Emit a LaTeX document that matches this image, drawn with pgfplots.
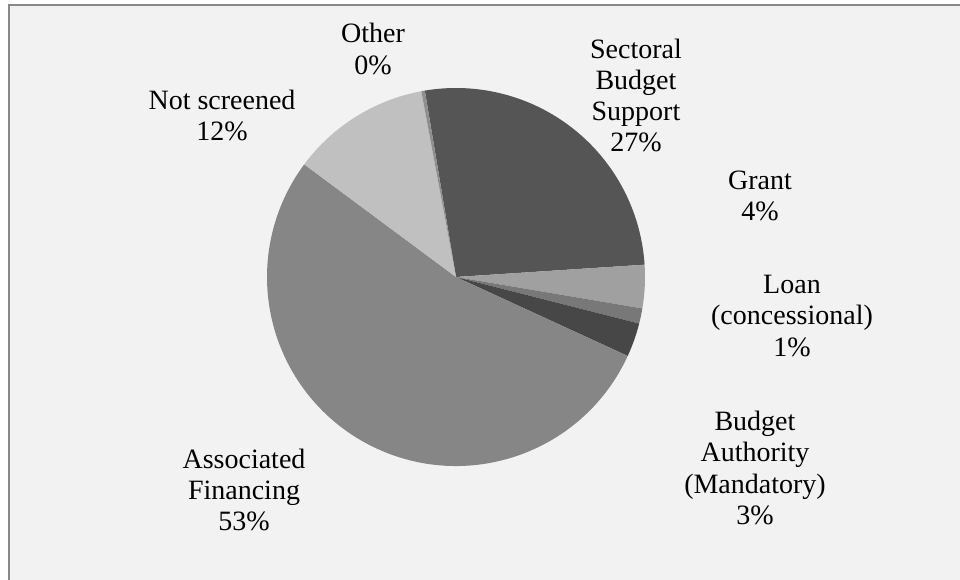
\documentclass[border=0pt]{standalone}
\usepackage{fontspec}
\setmainfont{Liberation Serif}
\usepackage{pgfplots}
\usepackage{pgfplotstable}
\pgfplotsset{compat=1.18}

\definecolor{bgpanel}{HTML}{F2F2F2}
\definecolor{frame}{HTML}{888888}
\definecolor{sbs}{HTML}{555555}
\definecolor{grant}{HTML}{A0A0A0}
\definecolor{loan}{HTML}{787878}
\definecolor{bam}{HTML}{474747}
\definecolor{assoc}{HTML}{868686}
\definecolor{notscr}{HTML}{C0C0C0}
\definecolor{other}{HTML}{8E8E8E}

\tikzset{lbl/.style={font=\fontsize{21}{23.4}\selectfont, align=center, inner sep=0pt, text=black}}

% slices clockwise, starting just left of 12 o'clock
\pgfplotstableread[col sep=comma]{
label,value,shade
Sectoral Budget Support,26.6,sbs
Grant,3.7,grant
Loan (concessional),1.3,loan
Budget Authority (Mandatory),2.9,bam
Associated Financing,53.3,assoc
Not screened,11.9,notscr
Other,0.3,other
}\piedata

\begin{document}
\begin{tikzpicture}
\fill[white] (0,0) rectangle (720pt,434.25pt);
\draw[line width=1.5pt, draw=frame, fill=bgpanel] (6.75pt,-10pt) rectangle (730pt,430.5pt);
\begin{axis}[
    width=720pt, height=434.25pt, scale only axis,
    xmin=0, xmax=960, ymin=0, ymax=579,
    hide axis, clip=false,
]
    \pgfplotsextra{
        \pgfplotstablegetrowsof{\piedata}
        \pgfmathtruncatemacro\lastrow{\pgfplotsretval-1}
        \xdef\angA{99.5}
        \foreach \i in {0,...,\lastrow}{
            \pgfplotstablegetelem{\i}{value}\of{\piedata}\let\sliceval\pgfplotsretval
            \pgfplotstablegetelem{\i}{shade}\of{\piedata}\let\slicecol\pgfplotsretval
            \pgfmathsetmacro\angB{\angA-3.6*\sliceval}
            \fill[fill=\slicecol] (axis cs:456,302) -- ++(\angA:141.75pt)
                arc[start angle=\angA, end angle=\angB, radius=141.75pt] -- cycle;
            \xdef\angA{\angB}
        }
    }
    \node[lbl] at (axis cs:373,530) {Other\\0\%};
    \node[lbl] at (axis cs:222,463.5) {Not screened\\12\%};
    \node[lbl] at (axis cs:636,483.5) {Sectoral\\Budget\\Support\\27\%};
    \node[lbl] at (axis cs:760,383) {Grant\\4\%};
    \node[lbl] at (axis cs:792,263) {Loan\\(concessional)\\1\%};
    \node[lbl] at (axis cs:755,111) {Budget\\Authority\\(Mandatory)\\3\%};
    \node[lbl] at (axis cs:244,89) {Associated\\Financing\\53\%};
\end{axis}
\pgfresetboundingbox
\useasboundingbox (0,0) rectangle (720pt,434.25pt);
\end{tikzpicture}
\end{document}
